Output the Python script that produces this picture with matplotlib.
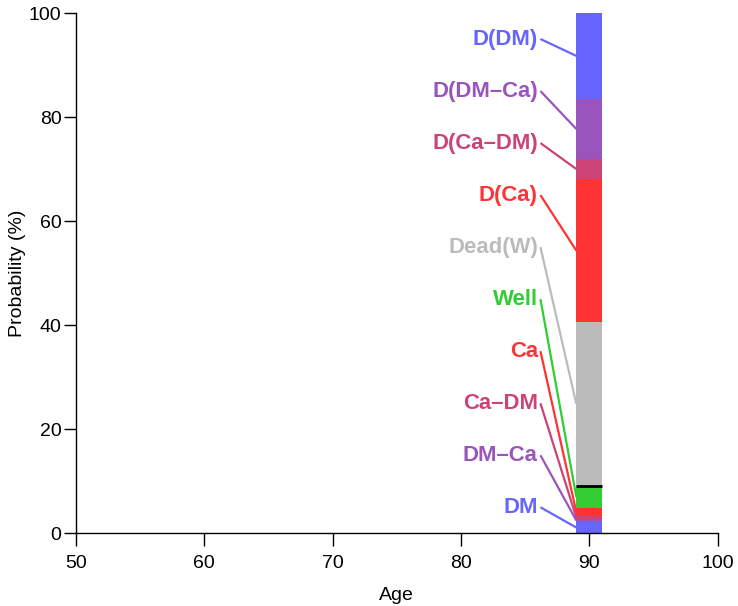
import matplotlib
matplotlib.use("Agg")
import matplotlib.pyplot as plt
import numpy as np

plt.rcParams['font.family'] = ['Liberation Sans', 'DejaVu Sans']

# Data (stacked from bottom to top)
states = ["DM", "DM\u2013Ca", "Ca\u2013DM", "Ca", "Well",
          "Dead(W)", "D(Ca)", "D(Ca\u2013DM)", "D(DM\u2013Ca)", "D(DM)"]
probs = [2.2, 0.5, 0.6, 1.5, 4.3, 31.45, 27.55, 3.8, 11.6, 16.5]
colors = ["#6666FF", "#9955BB", "#CC4477", "#FF3333", "#33CC33",
          "#BBBBBB", "#FF3333", "#CC4477", "#9955BB", "#6666FF"]
alive_states = 5
age = 90
label_y = [5, 15, 25, 35, 45, 55, 65, 75, 85, 95]
xticks = [50, 60, 70, 80, 90, 100]
yticks = [0, 20, 40, 60, 80, 100]

fig = plt.figure(figsize=(7.38, 6.06), dpi=100)
ax = fig.add_axes([76 / 738, 1 - 533.3 / 606, (717.5 - 76) / 738, (533.3 - 13) / 606])

bar_w = 2.0
bottoms = np.concatenate([[0], np.cumsum(probs)[:-1]])
ax.bar([age] * len(probs), probs, bottom=bottoms, width=bar_w, color=colors,
       linewidth=0, zorder=2)

# black line at top of alive states
alive_top = np.sum(probs[:alive_states])
ax.plot([age - bar_w / 2, age + bar_w / 2], [alive_top, alive_top], color="black",
        lw=2, zorder=3, solid_capstyle="butt")

# labels with leader lines
text_x = 86.0
line_x0 = 86.2
for name, p, b, c, ly in zip(states, probs, bottoms, colors, label_y):
    mid = b + p / 2
    ax.plot([line_x0, age - bar_w / 2], [ly, mid], color=c, lw=1.6, zorder=1,
            solid_capstyle="butt")
    ax.text(text_x, ly, name, color=c, fontsize=15.9, fontweight="bold",
            ha="right", va="center")

ax.set_xlim(50, 100)
ax.set_ylim(0, 100)
ax.set_xticks(xticks)
ax.set_yticks(yticks)
ax.spines['top'].set_visible(False)
ax.spines['right'].set_visible(False)
for s in ['left', 'bottom']:
    ax.spines[s].set_linewidth(1.0)
ax.tick_params(axis='both', direction='out', length=9, width=1.0, labelsize=14)
ax.tick_params(axis='x', pad=6.5)
ax.tick_params(axis='y', pad=1.5)
ax.set_xlabel("Age", fontsize=14, labelpad=11)
ax.set_ylabel("Probability (%)", fontsize=14, labelpad=2)

fig.savefig("out.png", dpi=100)
